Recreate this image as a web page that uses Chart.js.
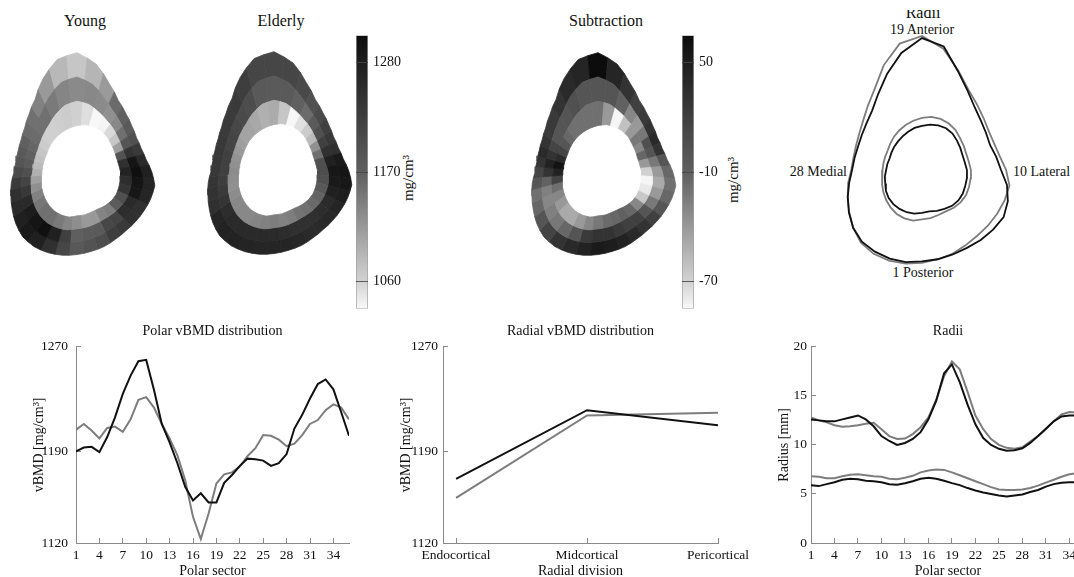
<!DOCTYPE html>
<html>
<head>
<meta charset="utf-8">
<script src="https://cdn.jsdelivr.net/npm/chart.js@4.4.1/dist/chart.umd.min.js"></script>
<style>
  html, body { margin: 0; padding: 0; background: #fff; }
  body { position: relative; width: 1074px; height: 577px; overflow: hidden; }
  .box { position: absolute; }
  .box canvas { display: block; }
  .lbl { position: absolute; white-space: nowrap; font-family: "Liberation Serif", "Times New Roman", serif;
         font-size: 14px; line-height: 1; color: #111; transform: translate(-50%, -50%); }
  .big { font-size: 16px; }
  .right { transform: translate(-100%, -50%); }
  .left { transform: translate(0, -50%); }
  .rot { transform: translate(-50%, -50%) rotate(-90deg); font-size: 15px; }
  .cut { position: absolute; overflow: hidden; }
</style>
</head>
<body>

<div class="lbl big" style="left:85px;top:21px">Young</div>
<div class="lbl big" style="left:281px;top:21px">Elderly</div>
<div class="lbl big" style="left:606px;top:21px">Subtraction</div>
<div class="cut" style="left:890px;top:10px;width:70px;height:14px">
  <div class="lbl big" style="left:33px;top:3px">Radii</div>
</div>
<div class="lbl" style="left:922px;top:30px">19 Anterior</div>
<div class="lbl right" style="left:847px;top:172px">28 Medial</div>
<div class="lbl left" style="left:1013px;top:172px">10 Lateral</div>
<div class="lbl" style="left:923px;top:273px">1 Posterior</div>
<div class="lbl rot" style="left:408px;top:178px">mg/cm³</div>
<div class="lbl rot" style="left:733px;top:180px">mg/cm³</div>

<div class="box" style="left:0;top:30px"><canvas id="mapYoung" width="175" height="250"></canvas></div>
<div class="box" style="left:195px;top:30px"><canvas id="mapElderly" width="160" height="250"></canvas></div>
<div class="box" style="left:350px;top:22px"><canvas id="barDensity" width="80" height="300"></canvas></div>
<div class="box" style="left:520px;top:30px"><canvas id="mapDiff" width="160" height="250"></canvas></div>
<div class="box" style="left:676px;top:22px"><canvas id="barDiff" width="80" height="300"></canvas></div>
<div class="box" style="left:800px;top:20px"><canvas id="radiiLoop" width="274" height="280"></canvas></div>

<div class="box" style="left:0;top:318px"><canvas id="polarChart" width="380" height="265"></canvas></div>
<div class="box" style="left:360px;top:318px"><canvas id="radialChart" width="420" height="265"></canvas></div>
<div class="box" style="left:720px;top:318px"><canvas id="radiiChart" width="420" height="265"></canvas></div>

<script>
// ---- data ----
const sectors = [1, 2, 3, 4, 5, 6, 7, 8, 9, 10, 11, 12, 13, 14, 15, 16, 17, 18,
  19, 20, 21, 22, 23, 24, 25, 26, 27, 28, 29, 30, 31, 32, 33, 34, 35, 36];
const sectorTicks = [1, 4, 7, 10, 13, 16, 19, 22, 25, 28, 31, 34];
const vbmdTicks = [1120, 1190, 1270];
const radiusTicks = [0, 5, 10, 15, 20];
const radialDivisions = ['Endocortical', 'Midcortical', 'Pericortical'];

// polar vBMD [mg/cm3]
const polarYoung = [1190, 1193, 1193.5, 1189.5, 1201, 1216, 1234, 1248, 1259, 1260, 1237, 1211,
  1197, 1181, 1163, 1152.5, 1158, 1151, 1151, 1166, 1172, 1179, 1184.5, 1184,
  1183, 1179, 1181, 1188, 1207.5, 1218, 1230.5, 1241.5, 1245, 1237.5, 1220, 1202];
const polarElderly = [1206.5, 1211, 1206, 1200, 1208, 1209, 1205, 1214.5, 1229.5, 1231.5, 1223.5, 1211,
  1200, 1187, 1168, 1140, 1123, 1142.5, 1165.5, 1172.5, 1174, 1178.5, 1186.5, 1192.5,
  1202.5, 1202, 1199, 1194, 1196, 1202.5, 1211, 1214, 1221.5, 1226, 1223.5, 1214.5];

// radial vBMD [mg/cm3]
const radialYoung = [1169, 1221.5, 1210];
const radialElderly = [1154.5, 1217.5, 1219.5];

// radii [mm]
const periYoung = [12.6, 12.5, 12.4, 12.4, 12.6, 12.8, 13.0, 12.6, 11.9, 10.9, 10.4, 10.0,
  10.2, 10.6, 11.3, 12.6, 14.5, 17.3, 18.2, 16.4, 14.1, 12.1, 10.7, 10.0,
  9.6, 9.4, 9.45, 9.65, 10.2, 10.9, 11.65, 12.4, 12.9, 13.0, 13.0, 12.9];
const periElderly = [12.8, 12.5, 12.3, 12.0, 11.85, 11.9, 12.0, 12.15, 12.25, 11.6, 10.9, 10.6,
  10.65, 11.1, 11.8, 12.8, 14.6, 17.0, 18.5, 17.7, 15.4, 13.0, 11.6, 10.6,
  10.0, 9.7, 9.6, 9.75, 10.35, 10.9, 11.6, 12.4, 13.1, 13.35, 13.3, 13.1];
const endoYoung = [5.9, 5.8, 6.0, 6.2, 6.45, 6.55, 6.5, 6.35, 6.3, 6.2, 6.0, 5.95,
  6.1, 6.3, 6.55, 6.65, 6.55, 6.35, 6.1, 5.9, 5.6, 5.35, 5.15, 5.0,
  4.85, 4.75, 4.85, 4.95, 5.2, 5.4, 5.75, 6.0, 6.15, 6.2, 6.2, 6.1];
const endoElderly = [6.8, 6.75, 6.6, 6.6, 6.8, 6.95, 7.0, 6.9, 6.8, 6.75, 6.55, 6.5,
  6.65, 6.85, 7.2, 7.4, 7.5, 7.45, 7.2, 6.9, 6.6, 6.3, 6.0, 5.7,
  5.45, 5.4, 5.4, 5.45, 5.6, 5.85, 6.15, 6.45, 6.75, 7.0, 7.1, 7.1];

// vBMD maps, one value per polar sector for each radial division [mg/cm3]
const youngEndo = [1125, 1115, 1115, 1135, 1140, 1175, 1195, 1240, 1255, 1272, 1250, 1190,
  1110, 1072, 1055, 1035, 1030, 1052, 1062, 1066, 1064, 1062, 1062, 1066,
  1072, 1077, 1082, 1093, 1108, 1123, 1138, 1147, 1154, 1154, 1144, 1134];
const youngMid = [1170, 1176, 1178, 1210, 1216, 1255, 1260, 1290, 1294, 1303, 1294, 1244,
  1187, 1154, 1131, 1123, 1129, 1131, 1129, 1134, 1144, 1154, 1154, 1159,
  1163, 1169, 1178, 1195, 1216, 1236, 1260, 1283, 1294, 1301, 1277, 1222];
const youngPeri = [1182, 1190, 1200, 1225, 1232, 1249, 1250, 1268, 1270, 1277, 1260, 1232,
  1195, 1178, 1169, 1159, 1114, 1088, 1072, 1085, 1115, 1138, 1154, 1159,
  1169, 1178, 1187, 1205, 1232, 1249, 1260, 1277, 1286, 1277, 1249, 1210];
const elderlyEndo = [1140, 1138, 1140, 1150, 1154, 1160, 1165, 1180, 1195, 1200, 1195, 1154,
  1123, 1082, 1066, 1050, 1034, 1072, 1098, 1093, 1100, 1105, 1105, 1110,
  1115, 1120, 1123, 1127, 1125, 1123, 1127, 1131, 1131, 1131, 1134, 1138];
const elderlyMid = [1260, 1255, 1250, 1249, 1249, 1255, 1260, 1277, 1285, 1290, 1277, 1249,
  1222, 1195, 1178, 1159, 1169, 1178, 1178, 1180, 1200, 1205, 1210, 1216,
  1216, 1222, 1222, 1222, 1225, 1232, 1240, 1255, 1260, 1260, 1260, 1260];
const elderlyPeri = [1268, 1268, 1265, 1260, 1260, 1262, 1268, 1280, 1290, 1294, 1285, 1249,
  1236, 1222, 1205, 1195, 1205, 1212, 1212, 1212, 1225, 1232, 1232, 1232,
  1236, 1236, 1236, 1236, 1240, 1244, 1250, 1268, 1273, 1273, 1270, 1268];
const diffEndo = [-23, -16, -14, -11, -14, -31, -65, -79, -84, -69, -40, -14,
  -31, -23, -40, -61, -84, -40, -19, -19, -19, -19, -14, -1,
  15, 39, 59, 46, 15, -19, -31, -40, -49, -49, -40, -31];
const diffMid = [31, 31, 24, 19, 19, -1, -23, -40, -49, -40, -23, -1,
  4, -23, -40, -31, -11, -1, -1, -1, 4, -1, -1, -1,
  15, 31, 46, 31, -11, -27, -31, -27, -23, -14, -1, 24];
const diffPeri = [53, 51, 46, 39, 31, 19, -1, -14, -19, -14, -1, 31,
  39, 31, 24, 19, 31, 44, 65, 44, 39, 31, 24, 24,
  31, 39, 31, 15, -1, -19, -14, -1, 15, 31, 39, 46];

// colour bars
const densityRange = [1033, 1307];
const densityTicks = [1060, 1170, 1280];
const diffRange = [-85, 65];
const diffTicks = [-70, -10, 50];

// ---- styling ----
const BLACK = '#111111';
const GRAY = '#7d7d7d';
const AXIS = '#8a8a8a';
const rampPos = [0, 0.1, 0.5, 0.9, 1];
const rampGray = [248, 210, 95, 30, 12];

Chart.defaults.font.family = '"Liberation Serif", "Times New Roman", serif';
Chart.defaults.font.size = 13.5;
Chart.defaults.color = '#111';

function grayAt(t) {
  t = Math.min(1, Math.max(0, t));
  for (let i = 1; i < rampPos.length; i++) {
    if (t <= rampPos[i]) {
      const f = (t - rampPos[i - 1]) / (rampPos[i] - rampPos[i - 1]);
      const g = Math.round(rampGray[i - 1] + (rampGray[i] - rampGray[i - 1]) * f);
      return `rgb(${g},${g},${g})`;
    }
  }
  return `rgb(${rampGray.at(-1)},${rampGray.at(-1)},${rampGray.at(-1)})`;
}

const rad = d => d * Math.PI / 180;
// sector 1 posterior (down), 10 lateral (right), 19 anterior (up), 28 medial (left)
const sectorAngle = i => rad(-90 + 10 * i);

// one cell of a map: sector i, radial division k (0 endo, 1 mid, 2 peri)
function cellPolygon(i, k, inner, outer) {
  const n = inner.length;
  const p = (i + n - 1) % n, q = (i + 1) % n;
  const ri = [(inner[p] + inner[i]) / 2, inner[i], (inner[i] + inner[q]) / 2];
  const ro = [(outer[p] + outer[i]) / 2, outer[i], (outer[i] + outer[q]) / 2];
  const ang = [sectorAngle(i) - rad(5), sectorAngle(i), sectorAngle(i) + rad(5)];
  const lo = ri.map((r, j) => r + (ro[j] - r) * k / 3);
  const hi = ri.map((r, j) => r + (ro[j] - r) * (k + 1) / 3);
  const pts = [];
  for (let j = 0; j < 3; j++) pts.push({ x: hi[j] * Math.cos(ang[j]), y: hi[j] * Math.sin(ang[j]) });
  for (let j = 2; j >= 0; j--) pts.push({ x: lo[j] * Math.cos(ang[j]), y: lo[j] * Math.sin(ang[j]) });
  pts.push(pts[0]);
  return pts;
}

function loopPoints(radii) {
  const pts = radii.map((r, i) => ({ x: r * Math.cos(sectorAngle(i)), y: r * Math.sin(sectorAngle(i)) }));
  pts.push(pts[0]);
  return pts;
}

// equal-aspect hidden axes centred on (cx, cy) canvas pixels
function squareScales(canvas, cx, cy, pxPerMm) {
  return {
    x: { display: false, min: -cx / pxPerMm, max: (canvas.width - cx) / pxPerMm },
    y: { display: false, min: -(canvas.height - cy) / pxPerMm, max: cy / pxPerMm }
  };
}

const quiet = {
  responsive: false, animation: false, events: [],
  layout: { padding: 0 },
};

function boneMap(id, layers, range, cx, cy) {
  const canvas = document.getElementById(id);
  const datasets = [];
  layers.forEach((layer, k) => layer.forEach((v, i) => {
    const c = grayAt((v - range[0]) / (range[1] - range[0]));
    datasets.push({
      data: cellPolygon(i, k, endoElderly, periElderly),
      showLine: true, fill: 'shape', backgroundColor: c, borderColor: c,
      borderWidth: 0.8, pointRadius: 0
    });
  }));
  new Chart(canvas, {
    type: 'scatter',
    data: { datasets },
    options: { ...quiet, plugins: { legend: { display: false }, tooltip: { enabled: false } },
      scales: squareScales(canvas, cx, cy, 6.45) }
  });
}

function colorBar(id, range, ticks) {
  new Chart(document.getElementById(id), {
    type: 'bar',
    data: {
      labels: [''],
      datasets: [{
        data: [range],
        backgroundColor: (c) => {
          const { chart } = c;
          if (!chart.chartArea) return '#888';
          const ys = chart.scales.y;
          const g = chart.ctx.createLinearGradient(0, ys.getPixelForValue(range[0]), 0, ys.getPixelForValue(range[1]));
          rampPos.forEach(t => g.addColorStop(t, grayAt(t)));
          return g;
        },
        borderColor: '#a0a0a0', borderWidth: 1, borderSkipped: false,
        barPercentage: 1, categoryPercentage: 1
      }]
    },
    options: {
      ...quiet,
      layout: { padding: { left: 6, top: 8, bottom: 9, right: 0 } },
      plugins: { legend: { display: false }, tooltip: { enabled: false } },
      scales: {
        x: { display: false },
        y: {
          position: 'right', min: range[0], max: range[1],
          afterBuildTicks: s => { s.ticks = ticks.map(v => ({ value: v })); },
          afterFit: s => { s.width = 62; },
          grid: { drawTicks: false, z: 1, color: 'rgba(70,70,70,0.85)' },
          border: { display: false },
          ticks: { padding: 5, font: { size: 14 }, callback: v => String(v) }
        }
      }
    }
  });
}

function profileChart(id, o) {
  new Chart(document.getElementById(id), {
    type: 'line',
    data: {
      datasets: o.series.map(s => ({
        data: s.data, borderColor: s.color, borderWidth: 2, pointRadius: 0, fill: false, tension: 0
      }))
    },
    options: {
      ...quiet,
      layout: { padding: { left: 0, right: o.padRight, top: 0, bottom: 0 } },
      plugins: {
        legend: { display: false }, tooltip: { enabled: false },
        title: { display: true, text: o.title, fullSize: false, color: '#111',
          font: { size: 14, weight: 'normal' }, padding: { top: 5, bottom: 7 } }
      },
      scales: {
        x: {
          type: 'linear', min: o.xMin, max: o.xMax,
          afterBuildTicks: s => { s.ticks = o.xTicks.map(v => ({ value: v })); },
          afterFit: s => { s.height = 40; },
          grid: { drawOnChartArea: false, tickLength: -5, color: AXIS },
          border: { color: AXIS },
          ticks: { padding: 9, maxRotation: 0, minRotation: 0, autoSkip: false, callback: o.xLabel },
          title: { display: true, text: o.xTitle, font: { size: 14 }, padding: { top: 0, bottom: 3 } }
        },
        y: {
          min: o.yMin, max: o.yMax,
          afterBuildTicks: s => { s.ticks = o.yTicks.map(v => ({ value: v })); },
          afterFit: s => { s.width = o.axisW; },
          grid: { drawOnChartArea: false, tickLength: -5, color: AXIS },
          border: { color: AXIS },
          ticks: { padding: o.yPad, callback: v => String(v) },
          title: { display: true, text: o.yTitle, font: { size: 14 }, padding: { top: o.yTitlePad, bottom: 0 } }
        }
      }
    }
  });
}

const xy = (xs, ys) => ys.map((y, i) => ({ x: xs[i], y }));

// ---- top row ----
boneMap('mapYoung', [youngEndo, youngMid, youngPeri], densityRange, 77, 142);
boneMap('mapElderly', [elderlyEndo, elderlyMid, elderlyPeri], densityRange, 79, 141);
boneMap('mapDiff', [diffEndo, diffMid, diffPeri], diffRange, 78, 142);
colorBar('barDensity', densityRange, densityTicks);
colorBar('barDiff', diffRange, diffTicks);

const loopCanvas = document.getElementById('radiiLoop');
new Chart(loopCanvas, {
  type: 'scatter',
  data: {
    datasets: [
      { data: loopPoints(periYoung), borderColor: BLACK },
      { data: loopPoints(endoYoung), borderColor: BLACK },
      { data: loopPoints(periElderly), borderColor: GRAY },
      { data: loopPoints(endoElderly), borderColor: GRAY }
    ].map(d => ({ ...d, showLine: true, borderWidth: 1.8, pointRadius: 0, fill: false }))
  },
  options: { ...quiet, plugins: { legend: { display: false }, tooltip: { enabled: false } },
    scales: squareScales(loopCanvas, 122, 150, 7.25) }
});

// ---- bottom row ----
profileChart('polarChart', {
  title: 'Polar vBMD distribution', xTitle: 'Polar sector', yTitle: 'vBMD [mg/cm³]',
  series: [{ data: xy(sectors, polarYoung), color: BLACK }, { data: xy(sectors, polarElderly), color: GRAY }],
  xMin: 1, xMax: 36, xTicks: sectorTicks, yMin: 1120, yMax: 1270, yTicks: vbmdTicks,
  axisW: 76, yPad: 13, yTitlePad: 31, padRight: 31
});

profileChart('radialChart', {
  title: 'Radial vBMD distribution', xTitle: 'Radial division', yTitle: 'vBMD [mg/cm³]',
  series: [{ data: xy([0, 1, 2], radialYoung), color: BLACK }, { data: xy([0, 1, 2], radialElderly), color: GRAY }],
  xMin: -0.1, xMax: 2, xTicks: [0, 1, 2], xLabel: v => radialDivisions[v],
  yMin: 1120, yMax: 1270, yTicks: vbmdTicks,
  axisW: 83, yPad: 10, yTitlePad: 38, padRight: 62
});

profileChart('radiiChart', {
  title: 'Radii', xTitle: 'Polar sector', yTitle: 'Radius [mm]',
  series: [
    { data: xy(sectors, periYoung), color: BLACK }, { data: xy(sectors, endoYoung), color: BLACK },
    { data: xy(sectors, periElderly), color: GRAY }, { data: xy(sectors, endoElderly), color: GRAY }
  ],
  xMin: 1, xMax: 36, xTicks: sectorTicks, yMin: 0, yMax: 20, yTicks: radiusTicks,
  axisW: 91, yPad: 9, yTitlePad: 56, padRight: 55
});
</script>
</body>
</html>
